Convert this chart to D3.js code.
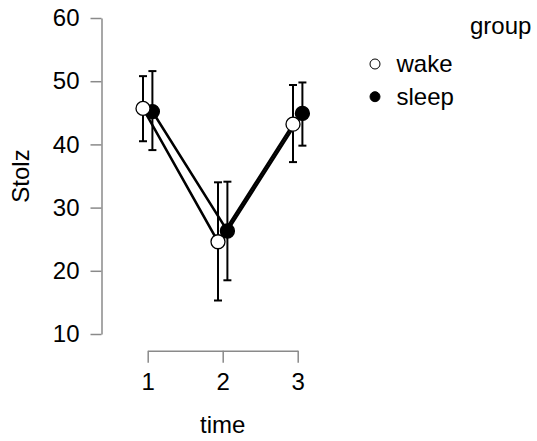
<!DOCTYPE html>
<html>
<head>
<meta charset="utf-8">
<script src="https://cdn.jsdelivr.net/npm/d3@7"></script>
<style>
  body { margin: 0; background: #fff; }
  svg { display: block; font-family: "Liberation Sans", Arial, sans-serif; }
</style>
</head>
<body>
<div id="chart"></div>
<script>
// descriptives (mean with 95% CI)
const times = [1, 2, 3];
const groups = ["wake", "sleep"];
const wakeMean = [45.7, 24.6, 43.2];
const wakeLower = [40.5, 15.3, 37.2];
const wakeUpper = [50.8, 34.0, 49.4];
const sleepMean = [45.2, 26.3, 44.9];
const sleepLower = [39.1, 18.5, 39.8];
const sleepUpper = [51.6, 34.1, 49.8];
const yTicks = [10, 20, 30, 40, 50, 60];

const series = [
  { name: "wake", fill: "#fff", mean: wakeMean, lo: wakeLower, hi: wakeUpper, dx: -4.7 },
  { name: "sleep", fill: "#000", mean: sleepMean, lo: sleepLower, hi: sleepUpper, dx: 4.7 }
];

const width = 537, height = 441;
const fs = 24;
const svg = d3.select("#chart").append("svg")
  .attr("width", width).attr("height", height);

const y = d3.scaleLinear().domain([10, 60]).range([334, 18]);
const x = d3.scalePoint().domain(times).range([147.7, 297.7]);

// y axis
const yAxis = svg.append("g")
  .attr("transform", "translate(101.5,0)")
  .call(d3.axisLeft(y).tickValues(yTicks).tickSize(11).tickSizeOuter(0).tickPadding(11));
// x axis
const xAxis = svg.append("g")
  .attr("transform", "translate(0,350.7)")
  .call(d3.axisBottom(x).tickSize(12).tickSizeOuter(0).tickPadding(10));

[yAxis, xAxis].forEach(a => {
  a.select(".domain").attr("stroke", "#8a8a8a").attr("stroke-width", 1.5);
  a.selectAll(".tick line").attr("stroke", "#8a8a8a").attr("stroke-width", 1.5);
  a.selectAll(".tick text").attr("fill", "#000").attr("font-size", fs)
    .attr("font-family", "Liberation Sans, Arial, sans-serif");
});

// axis titles
svg.append("text")
  .attr("x", x(2)).attr("y", 433)
  .attr("text-anchor", "middle").attr("font-size", fs)
  .text("time");
svg.append("text")
  .attr("transform", "translate(29,176) rotate(-90)")
  .attr("text-anchor", "middle").attr("font-size", fs)
  .text("Stolz");

const line = d3.line();

// connecting lines
series.forEach(s => {
  svg.append("path")
    .attr("d", line(times.map((t, i) => [x(t) + s.dx, y(s.mean[i])])))
    .attr("fill", "none").attr("stroke", "#000").attr("stroke-width", 2.5);
});

// error bars
series.forEach(s => {
  times.forEach((t, i) => {
    const cx = x(t) + s.dx;
    svg.append("line")
      .attr("x1", cx).attr("x2", cx)
      .attr("y1", y(s.lo[i])).attr("y2", y(s.hi[i]))
      .attr("stroke", "#000").attr("stroke-width", 2);
    [s.lo[i], s.hi[i]].forEach(v => {
      svg.append("line")
        .attr("x1", cx - 4).attr("x2", cx + 4)
        .attr("y1", y(v)).attr("y2", y(v))
        .attr("stroke", "#000").attr("stroke-width", 2);
    });
  });
});

// points (sleep underneath, wake on top)
series.slice().reverse().forEach(s => {
  times.forEach((t, i) => {
    svg.append("circle")
      .attr("cx", x(t) + s.dx).attr("cy", y(s.mean[i]))
      .attr("r", 7)
      .attr("fill", s.fill).attr("stroke", "#000").attr("stroke-width", 1.3);
  });
});

// legend
svg.append("text")
  .attr("x", 470).attr("y", 34)
  .attr("font-size", fs).text("group");
series.forEach((s, i) => {
  const ly = 64 + i * 32.7;
  svg.append("circle")
    .attr("cx", 375).attr("cy", ly).attr("r", 5)
    .attr("fill", s.fill).attr("stroke", "#000").attr("stroke-width", 1);
  svg.append("text")
    .attr("x", 396.5).attr("y", ly + 8)
    .attr("font-size", fs).text(groups[i]);
});
</script>
</body>
</html>
